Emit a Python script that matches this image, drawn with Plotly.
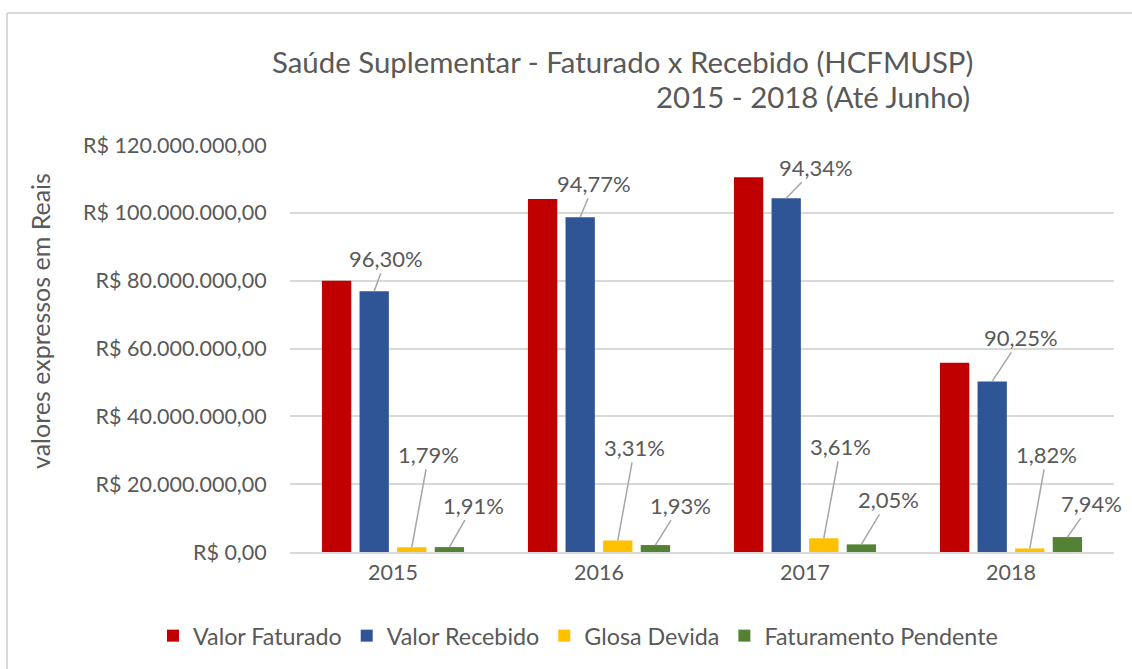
import plotly.graph_objects as go

anos = ["2015", "2016", "2017", "2018"]
valor_faturado = [80.0e6, 104.1e6, 110.5e6, 55.8e6]
valor_recebido = [76.9e6, 98.7e6, 104.3e6, 50.3e6]
glosa_devida = [1.40e6, 3.40e6, 4.05e6, 1.05e6]
faturamento_pendente = [1.45e6, 2.05e6, 2.25e6, 4.40e6]

pct_recebido = ["96,30%", "94,77%", "94,34%", "90,25%"]
pct_glosa = ["1,79%", "3,31%", "3,61%", "1,82%"]
pct_pendente = ["1,91%", "1,93%", "2,05%", "7,94%"]

y_ticks = [0, 20e6, 40e6, 60e6, 80e6, 100e6, 120e6]
y_ticktext = ["R$ 0,00", "R$ 20.000.000,00", "R$ 40.000.000,00", "R$ 60.000.000,00",
              "R$ 80.000.000,00", "R$ 100.000.000,00", "R$ 120.000.000,00"]

series = [
    ("Valor Faturado", valor_faturado, "#C00000"),
    ("Valor Recebido", valor_recebido, "#2F5597"),
    ("Glosa Devida", glosa_devida, "#FFC000"),
    ("Faturamento Pendente", faturamento_pendente, "#548235"),
]

FONT = "Lato, Open Sans, sans-serif"
GRAY = "#595959"

fig = go.Figure()
for name, vals, color in series:
    fig.add_trace(go.Bar(x=anos, y=vals, name=name, marker=dict(color=color, line=dict(width=0))))

BARGAP = 0.27
BARGROUPGAP = 0.22
step = (1 - BARGAP) / 4
offsets = [(-1.5 + i) * step for i in range(4)]

# label offsets (text center relative to bar top), in pixels
off_rec = [(12, -33), (14, -34), (30, -31), (29, -44)]
off_glo = [(17, -93), (17, -93), (17, -92), (17, -94)]
off_pen = [(24, -42), (25, -40), (27, -45), (24, -34)]

annotations = []
for i in range(4):
    for s_idx, vals, labels, offs in [(1, valor_recebido, pct_recebido, off_rec),
                                      (2, glosa_devida, pct_glosa, off_glo),
                                      (3, faturamento_pendente, pct_pendente, off_pen)]:
        annotations.append(dict(
            x=i + offsets[s_idx], y=vals[i], xref="x", yref="y",
            text=labels[i], showarrow=True, arrowhead=0, arrowwidth=1.5,
            arrowcolor="#A6A6A6", ax=offs[i][0], ay=offs[i][1],
            font=dict(family=FONT, size=22, color=GRAY), standoff=0,
        ))

W, H = 1132, 669
L, R, T, B = 290, 18, 145, 117
pw, ph = W - L - R, H - T - B

def px(x):
    return (x - L) / pw

def py(y):
    return (H - B - y) / ph

annotations.append(dict(x=px(622), y=py(62), xref="paper", yref="paper", showarrow=False,
                        text="Saúde Suplementar - Faturado x Recebido (HCFMUSP)",
                        font=dict(family=FONT, size=29.4, color=GRAY), xanchor="center", yanchor="middle"))
annotations.append(dict(x=px(972), y=py(97), xref="paper", yref="paper", showarrow=False,
                        text="2015 - 2018 (Até Junho)",
                        font=dict(family=FONT, size=29.4, color=GRAY), xanchor="right", yanchor="middle"))
annotations.append(dict(x=px(40), y=py(321), xref="paper", yref="paper", showarrow=False,
                        text="valores expressos em Reais", textangle=-90,
                        font=dict(family=FONT, size=25, color=GRAY), xanchor="center", yanchor="middle"))

shapes = [
    dict(type="line", xref="paper", yref="paper", x0=px(7), x1=px(1132), y0=py(13), y1=py(13),
         line=dict(color="#D9D9D9", width=2)),
    dict(type="line", xref="paper", yref="paper", x0=px(7), x1=px(7), y0=py(13), y1=py(669),
         line=dict(color="#D9D9D9", width=2)),
]

fig.update_layout(
    width=W, height=H,
    margin=dict(l=L, r=R, t=T, b=B, autoexpand=False),
    paper_bgcolor="white", plot_bgcolor="white",
    barmode="group", bargap=BARGAP, bargroupgap=BARGROUPGAP,
    font=dict(family=FONT, color=GRAY, size=21.5),
    showlegend=True,
    legend=dict(orientation="h", xref="paper", yref="paper",
                x=px(153), y=py(636), xanchor="left", yanchor="middle",
                font=dict(family=FONT, size=23.3, color=GRAY), itemwidth=30, traceorder="normal"),
    annotations=annotations,
    shapes=shapes,
    xaxis=dict(type="category", showgrid=False, showline=True, linecolor="#D9D9D9", linewidth=2,
               ticks="", tickfont=dict(family=FONT, size=21.5, color=GRAY), range=[-0.5, 3.5]),
    yaxis=dict(range=[0, 120e6], tickvals=y_ticks, ticktext=y_ticktext, showgrid=True,
               gridcolor="#D9D9D9", gridwidth=2, zeroline=False, showline=False,
               ticks="outside", ticklen=18, tickcolor="rgba(0,0,0,0)", tickwidth=1,
               tickfont=dict(family=FONT, size=21.5, color=GRAY)),
)

fig.write_html("out.html", config={"displayModeBar": False},
               post_script="document.body.style.margin='0';document.body.style.overflow='hidden';")
